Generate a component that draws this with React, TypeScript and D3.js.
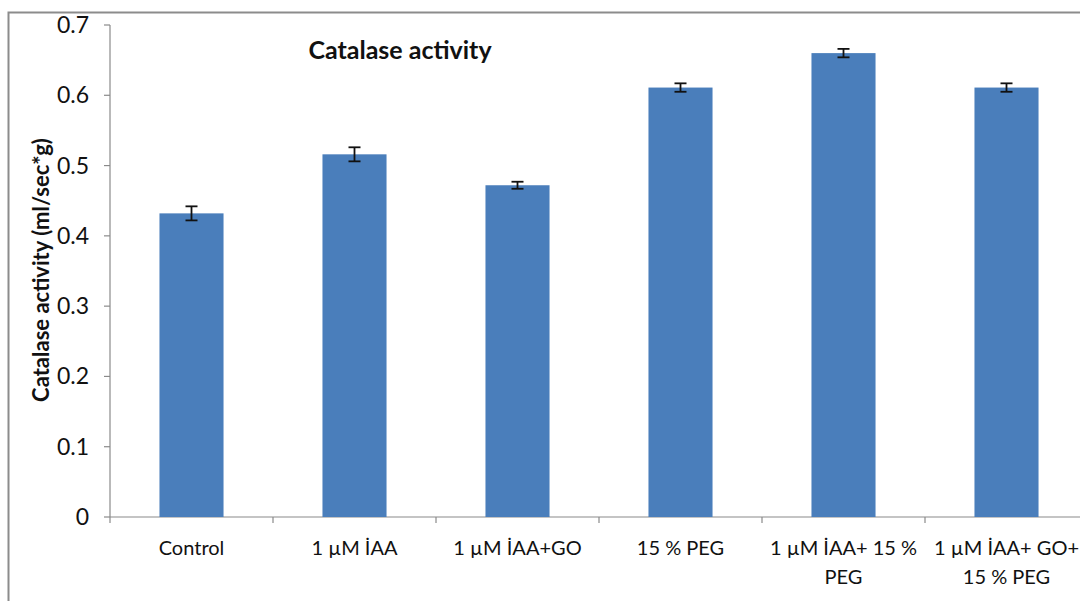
import React from "react";
import * as d3 from "d3";

const categories = [
  ["Control"],
  ["1 µM İAA"],
  ["1 µM İAA+GO"],
  ["15 % PEG"],
  ["1 µM İAA+ 15 %", "PEG"],
  ["1 µM İAA+ GO+", "15 % PEG"],
];
const values = [0.432, 0.516, 0.472, 0.611, 0.66, 0.611];
const errors = [0.01, 0.01, 0.005, 0.006, 0.006, 0.006];
const yTicks = [0, 0.1, 0.2, 0.3, 0.4, 0.5, 0.6, 0.7];

const W = 1080;
const H = 601;
const left = 110;
const top = 25;
const bottom = 517;
const bandW = 163;
const font = "Lato, 'Open Sans', sans-serif";

export default function App() {
  const x = d3
    .scaleBand<number>()
    .domain(d3.range(categories.length))
    .range([left, left + bandW * categories.length])
    .paddingInner(0.607)
    .paddingOuter(0.3035);
  const y = d3.scaleLinear().domain([0, 0.7]).range([bottom, top]);
  const axisColor = "#8a8a8a";
  const barColor = "#4a7ebb";

  return (
    <svg
      width={W}
      height={H}
      style={{ position: "absolute", left: 0, top: 0, background: "#fff" }}
    >
      <rect x={8.5} y={12.5} width={W + 20} height={H + 20} fill="none" stroke="#8c8c8c" strokeWidth={2} />

      {/* value axis */}
      <line x1={left} x2={left} y1={top} y2={bottom} stroke={axisColor} strokeWidth={1.2} />
      {yTicks.map((t) => (
        <g key={t}>
          <line x1={left - 6} x2={left} y1={y(t)} y2={y(t)} stroke={axisColor} strokeWidth={1.2} />
          <text
            x={89}
            y={y(t)}
            dy="0.35em"
            textAnchor="end"
            fontFamily={font}
            fontSize={23}
            fill="#111"
          >
            {t === 0 ? "0" : t.toFixed(1)}
          </text>
        </g>
      ))}

      {/* category axis */}
      <line x1={left} x2={W + 20} y1={bottom} y2={bottom} stroke={axisColor} strokeWidth={1.2} />
      {d3.range(categories.length + 1).map((i) => (
        <line
          key={i}
          x1={left + i * bandW}
          x2={left + i * bandW}
          y1={bottom}
          y2={bottom + 6}
          stroke={axisColor}
          strokeWidth={1.2}
        />
      ))}

      {/* bars */}
      {values.map((v, i) => (
        <rect key={i} x={x(i)} y={y(v)} width={x.bandwidth()} height={bottom - y(v)} fill={barColor} />
      ))}

      {/* error bars */}
      {values.map((v, i) => {
        const cx = (x(i) as number) + x.bandwidth() / 2;
        const y1 = y(v + errors[i]);
        const y2 = y(v - errors[i]);
        return (
          <g key={i} stroke="#111" strokeWidth={1.8}>
            <line x1={cx} x2={cx} y1={y1} y2={y2} />
            <line x1={cx - 6} x2={cx + 6} y1={y1} y2={y1} />
            <line x1={cx - 6} x2={cx + 6} y1={y2} y2={y2} />
          </g>
        );
      })}

      {/* category labels */}
      {categories.map((lines, i) => (
        <text
          key={i}
          x={(x(i) as number) + x.bandwidth() / 2}
          y={555}
          textAnchor="middle"
          fontFamily={font}
          fontSize={20}
          fill="#111"
        >
          {lines.map((l, j) => (
            <tspan key={j} x={(x(i) as number) + x.bandwidth() / 2} dy={j === 0 ? 0 : 29}>
              {l}
            </tspan>
          ))}
        </text>
      ))}

      <text x={400} y={59} textAnchor="middle" fontFamily={font} fontWeight="bold" fontSize={25} fill="#111">
        Catalase activity
      </text>

      <text
        transform={`translate(49,270) rotate(-90)`}
        textAnchor="middle"
        fontFamily={font}
        fontWeight="bold"
        fontSize={22}
        fill="#111"
      >
        Catalase activity (ml/sec*g)
      </text>
    </svg>
  );
}
